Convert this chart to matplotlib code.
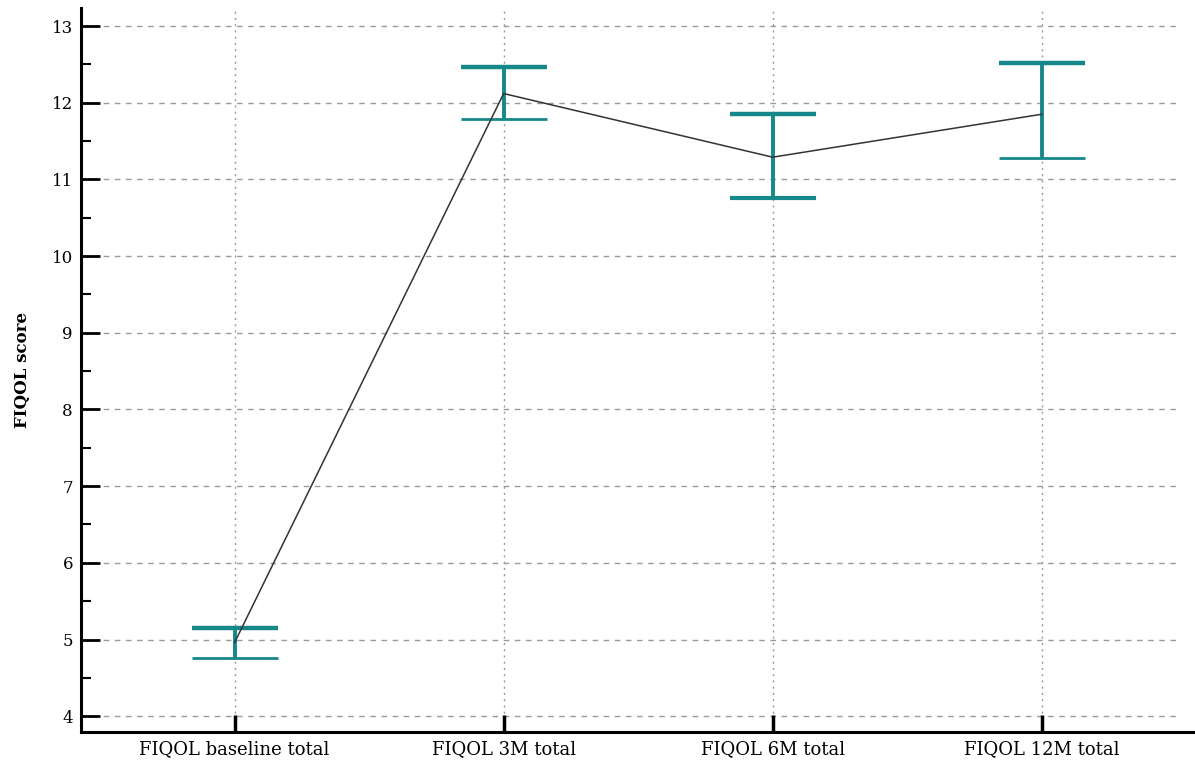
import numpy as np
import matplotlib
matplotlib.use('Agg')
import matplotlib.pyplot as plt

# FIQOL score means with CI bounds
CATEGORIES = ['FIQOL baseline total', 'FIQOL 3M total', 'FIQOL 6M total', 'FIQOL 12M total']
MEANS = [4.96, 12.12, 11.29, 11.85]
UPPER = [5.15, 12.47, 11.85, 12.52]
LOWER = [4.76, 11.79, 10.76, 11.28]

TEAL = '#17888a'

plt.rcParams['font.family'] = ['DejaVu Serif']

fig = plt.figure(figsize=(11.95, 7.66), dpi=100)
ax = fig.add_axes([0.068, 0.044, 0.932, 0.945])

x = np.arange(len(CATEGORIES))

# grid
for yv in range(4, 14):
    ax.axhline(yv, color='#9a9a9a', lw=1.0, ls=(0, (4, 4)), xmax=0.985, zorder=0)
for xv in x:
    ax.axvline(xv, color='#9a9a9a', lw=1.0, ls=(0, (1.5, 3)), zorder=0)

# mean line
ax.plot(x, MEANS, '-', color='#333333', lw=1.1, zorder=3)

# error bars
ax.vlines(x, LOWER, UPPER, color=TEAL, lw=2.8, zorder=2)
cap = 0.16
ax.hlines(UPPER, x - cap, x + cap, color=TEAL, lw=3.2, zorder=2)
ax.hlines(LOWER, x - cap, x + cap, color=TEAL, lw=[2.0, 2.0, 3.0, 2.0], zorder=2)

ax.set_xlim(-0.57, 3.57)
ax.set_ylim(3.79, 13.23)
ax.set_xticks(x)
ax.set_xticklabels(CATEGORIES, fontsize=13)
ax.set_yticks(range(4, 14))
ax.set_yticks(np.arange(4.5, 13, 1.0), minor=True)
ax.tick_params(axis='y', which='major', direction='in', length=14, width=2, labelsize=12, pad=6)
ax.tick_params(axis='y', which='minor', direction='in', length=7, width=1.5)
ax.tick_params(axis='x', direction='in', length=12, width=2.5, labelsize=13, pad=6)
ax.set_ylabel('FIQOL score', fontsize=12, fontweight='bold', labelpad=15)

for s in ['top', 'right']:
    ax.spines[s].set_visible(False)
for s in ['left', 'bottom']:
    ax.spines[s].set_linewidth(2.2)

fig.savefig('out.png', dpi=100)
